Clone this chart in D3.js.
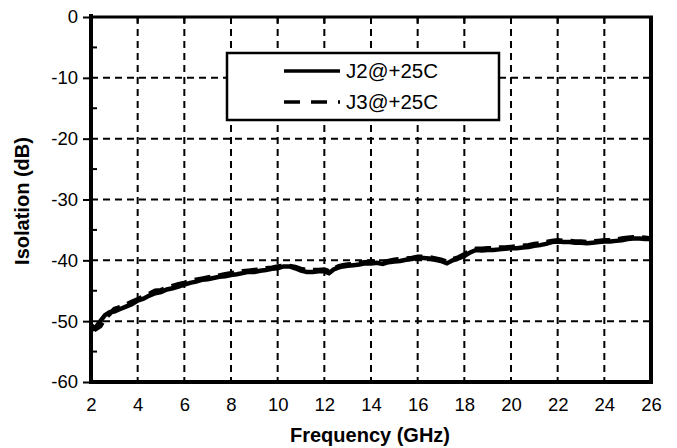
<!DOCTYPE html>
<html><head><meta charset="utf-8">
<script src="https://cdn.jsdelivr.net/npm/d3@7"></script>
<style>body{margin:0;background:#fff}svg{display:block}text{font-family:"Liberation Sans",Arial,sans-serif}</style>
</head><body><svg id="c" width="677" height="448"></svg>
<script>
const xTicks=[2,4,6,8,10,12,14,16,18,20,22,24,26];
const yTicks=[0,-10,-20,-30,-40,-50,-60];
const seriesNames=["J2@+25C","J3@+25C"];
const freq=[2.0,2.2,2.4,2.6,2.8,3.0,3.25,3.5,3.75,4.0,4.25,4.5,4.75,5.0,5.25,5.5,5.75,6.0,6.25,6.5,6.75,7.0,7.25,7.5,7.75,8.0,8.25,8.5,8.75,9.0,9.25,9.5,9.75,10.0,10.25,10.5,10.75,11.0,11.25,11.5,11.75,12.0,12.2,12.4,12.6,12.8,13.0,13.25,13.5,13.75,14.0,14.25,14.5,14.75,15.0,15.25,15.5,15.75,16.0,16.25,16.5,16.75,17.0,17.25,17.5,17.75,18.0,18.25,18.5,18.75,19.0,19.25,19.5,19.75,20.0,20.25,20.5,20.75,21.0,21.25,21.5,21.75,22.0,22.25,22.5,22.75,23.0,23.25,23.5,23.75,24.0,24.25,24.5,24.75,25.0,25.25,25.5,25.75,26.0];
const j2=[-51.5,-51.0,-50.0,-49.0,-48.5,-48.4,-48.0,-47.6,-47.2,-46.6,-46.3,-45.8,-45.4,-45.2,-44.8,-44.6,-44.3,-44.0,-43.7,-43.5,-43.2,-43.1,-42.9,-42.7,-42.6,-42.4,-42.3,-42.1,-41.9,-41.9,-41.7,-41.6,-41.4,-41.3,-41.0,-41.0,-41.3,-41.7,-41.9,-41.9,-41.8,-41.8,-42.1,-41.5,-41.2,-41.0,-40.9,-40.8,-40.7,-40.5,-40.5,-40.4,-40.6,-40.3,-40.2,-40.1,-39.9,-39.8,-39.6,-39.6,-39.7,-39.9,-40.1,-40.5,-40.0,-39.7,-39.3,-38.7,-38.3,-38.4,-38.3,-38.3,-38.2,-38.1,-38.0,-38.0,-37.9,-37.8,-37.6,-37.5,-37.3,-37.0,-36.9,-37.0,-37.0,-37.1,-37.1,-37.2,-37.1,-37.0,-36.9,-36.9,-36.8,-36.7,-36.5,-36.4,-36.4,-36.5,-36.5];
const j3=[-50.6,-51.3,-50.8,-49.6,-48.8,-48.0,-47.7,-47.3,-46.8,-46.4,-45.9,-45.5,-45.0,-44.9,-44.5,-44.2,-43.9,-43.7,-43.4,-43.2,-43.0,-42.8,-42.7,-42.5,-42.3,-42.1,-42.0,-41.8,-41.7,-41.6,-41.5,-41.3,-41.2,-41.0,-40.9,-40.9,-41.1,-41.4,-41.6,-41.6,-41.6,-41.5,-41.8,-41.4,-41.0,-40.8,-40.7,-40.6,-40.4,-40.3,-40.2,-40.2,-40.3,-40.1,-39.9,-39.8,-39.7,-39.6,-39.4,-39.4,-39.5,-39.7,-39.9,-40.2,-39.8,-39.5,-39.0,-38.4,-38.1,-38.1,-38.0,-38.0,-37.9,-37.9,-37.8,-37.7,-37.6,-37.5,-37.3,-37.2,-37.0,-36.8,-36.7,-36.8,-36.8,-36.9,-36.9,-37.0,-36.9,-36.8,-36.7,-36.7,-36.6,-36.4,-36.3,-36.2,-36.2,-36.3,-36.4];

const svg=d3.select("#c");
const L=91,R=651,T=17,B=382;
const x=d3.scaleLinear().domain([2,26]).range([L,R]);
const y=d3.scaleLinear().domain([-60,0]).range([B,T]);

// grid
svg.append("g").selectAll("line").data(xTicks.slice(1,-1)).join("line")
 .attr("x1",d=>x(d)).attr("x2",d=>x(d)).attr("y1",T).attr("y2",B)
 .attr("stroke","#000").attr("stroke-width",2).attr("stroke-dasharray","7,5");
svg.append("g").selectAll("line").data(yTicks.slice(1,-1)).join("line")
 .attr("y1",d=>y(d)).attr("y2",d=>y(d)).attr("x1",L).attr("x2",R)
 .attr("stroke","#000").attr("stroke-width",2).attr("stroke-dasharray","7,5");

// data
const line=d3.line().x((d,i)=>x(freq[i])).y(d=>y(d));
svg.append("path").datum(j3).attr("d",line).attr("fill","none").attr("stroke","#000").attr("stroke-width",4.5).attr("stroke-dasharray","16,8");
svg.append("path").datum(j2).attr("d",line).attr("fill","none").attr("stroke","#000").attr("stroke-width",4.5);

// legend box
const lg=svg.append("g");
lg.append("rect").attr("x",227).attr("y",53).attr("width",272).attr("height",67).attr("fill","#fff").attr("stroke","#000").attr("stroke-width",2.5);
lg.append("line").attr("x1",284).attr("x2",340).attr("y1",71).attr("y2",71).attr("stroke","#000").attr("stroke-width",3.5);
lg.append("line").attr("x1",284).attr("x2",340).attr("y1",102).attr("y2",102).attr("stroke","#000").attr("stroke-width",3.5).attr("stroke-dasharray","16,11");
lg.selectAll("text").data(seriesNames).join("text").attr("x",346).attr("y",(d,i)=>78+i*31)
 .attr("font-size",20.5).text(d=>d);

// top minor ticks (inside)
svg.append("g").selectAll("line").data(xTicks.slice(1,-1)).join("line")
 .attr("x1",d=>x(d)).attr("x2",d=>x(d)).attr("y1",T).attr("y2",T+6).attr("stroke","#000").attr("stroke-width",2);
// left minor ticks (inside)
const yMinor=d3.range(-55,0,10);
svg.append("g").selectAll("line").data(yMinor).join("line")
 .attr("x1",L).attr("x2",L+6).attr("y1",d=>y(d)).attr("y2",d=>y(d)).attr("stroke","#000").attr("stroke-width",2);

// axes frame
svg.append("line").attr("x1",L).attr("x2",R+2).attr("y1",T).attr("y2",T).attr("stroke","#000").attr("stroke-width",3);
svg.append("line").attr("x1",L).attr("x2",R+2).attr("y1",B).attr("y2",B).attr("stroke","#000").attr("stroke-width",4);
svg.append("line").attr("x1",L).attr("x2",L).attr("y1",T-3).attr("y2",B+2).attr("stroke","#000").attr("stroke-width",4);
svg.append("line").attr("x1",R).attr("x2",R).attr("y1",T).attr("y2",B+2).attr("stroke","#000").attr("stroke-width",4);

// y axis ticks & labels
const ya=d3.axisLeft(y).tickValues(yTicks).tickSize(8).tickPadding(5).tickFormat(d=>String(d));
const gy=svg.append("g").attr("transform",`translate(${L},0)`).call(ya);
gy.select(".domain").remove();
gy.selectAll(".tick line").attr("stroke-width",2);
gy.selectAll("text").attr("font-size",18.5).attr("fill","#000").style("font-family","Liberation Sans, Arial, sans-serif");

const xa=d3.axisBottom(x).tickValues(xTicks).tickSize(0).tickPadding(16).tickFormat(d=>String(d));
const gx=svg.append("g").attr("transform",`translate(0,${B})`).call(xa);
gx.select(".domain").remove();
gx.selectAll("text").attr("font-size",18.5).attr("fill","#000").style("font-family","Liberation Sans, Arial, sans-serif");

svg.append("text").attr("x",370).attr("y",442).attr("text-anchor","middle").attr("font-size",20).attr("font-weight","bold").text("Frequency (GHz)");
svg.append("text").attr("transform","translate(29,201) rotate(-90)").attr("text-anchor","middle").attr("font-size",20).attr("font-weight","bold").text("Isolation (dB)");
</script></body></html>
